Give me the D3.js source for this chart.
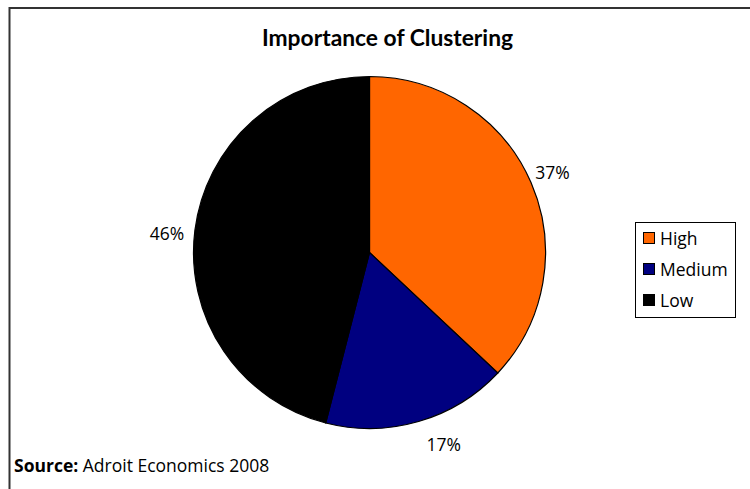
<!DOCTYPE html>
<html>
<head>
<meta charset="utf-8">
<script src="https://cdn.jsdelivr.net/npm/d3@7"></script>
<style>
  body { margin: 0; background: #fff; }
  svg { font-family: "Open Sans", sans-serif; }
</style>
</head>
<body>
<div id="chart"></div>
<script>
// chart data
let categories = ["High", "Medium", "Low"];
let values = [37, 17, 46];
let colors = ["#ff6600", "#000080", "#000000"];
// small nudges for the percent labels, like the original layout
let labelNudge = [[-2.5, 1], [18, -2], [-2, 7]];

let width = 750, height = 489;
let cx = 369.5, cy = 252.5, radius = 176;

let svg = d3.select("#chart").append("svg")
  .attr("width", width)
  .attr("height", height);

// frame (only top and left edges are in view)
svg.append("path")
  .attr("d", "M9.5,489 V8 H750")
  .attr("fill", "none")
  .attr("stroke", "#333")
  .attr("stroke-width", 2);

// title
svg.append("text")
  .attr("x", 387.5)
  .attr("y", 46)
  .attr("text-anchor", "middle")
  .style("font-family", "Lato, sans-serif")
  .style("font-size", "22.8px")
  .style("font-weight", "bold")
  .text("Importance of Clustering");

let pie = d3.pie().sort(null).value(d => d);
let arc = d3.arc().innerRadius(0).outerRadius(radius);
let labelArc = d3.arc().innerRadius(radius + 26).outerRadius(radius + 26);

let g = svg.append("g")
  .attr("transform", "translate(" + cx + "," + cy + ")");

let arcs = pie(values);

g.selectAll("path.slice")
  .data(arcs)
  .enter().append("path")
  .attr("class", "slice")
  .attr("d", arc)
  .attr("fill", (d, i) => colors[i])
  .attr("stroke", "#000")
  .attr("stroke-width", 1.2);

g.selectAll("text.pct")
  .data(arcs)
  .enter().append("text")
  .attr("class", "pct")
  .attr("x", (d, i) => labelArc.centroid(d)[0] + labelNudge[i][0])
  .attr("y", (d, i) => labelArc.centroid(d)[1] + labelNudge[i][1])
  .attr("dy", "0.35em")
  .attr("text-anchor", "middle")
  .style("font-size", "17.5px")
  .text(d => d.data + "%");

// legend
let legend = svg.append("g").attr("transform", "translate(635,222)");
legend.append("rect")
  .attr("x", 0.5).attr("y", 0.5)
  .attr("width", 100).attr("height", 95)
  .attr("fill", "#fff")
  .attr("stroke", "#000");

categories.forEach(function (c, i) {
  let row = legend.append("g").attr("transform", "translate(0," + (17 + i * 31) + ")");
  row.append("rect")
    .attr("x", 8.5).attr("y", -6.5)
    .attr("width", 11).attr("height", 11)
    .attr("fill", colors[i])
    .attr("stroke", "#000");
  row.append("text")
    .attr("x", 25)
    .attr("y", 0)
    .attr("dy", "0.35em")
    .style("font-size", "17.5px")
    .text(c);
});

// source note
let src = svg.append("text")
  .attr("x", 14)
  .attr("y", 472)
  .style("font-size", "17.5px");
src.append("tspan").style("font-weight", "bold").text("Source:");
src.append("tspan").text(" Adroit Economics 2008");
</script>
</body>
</html>
